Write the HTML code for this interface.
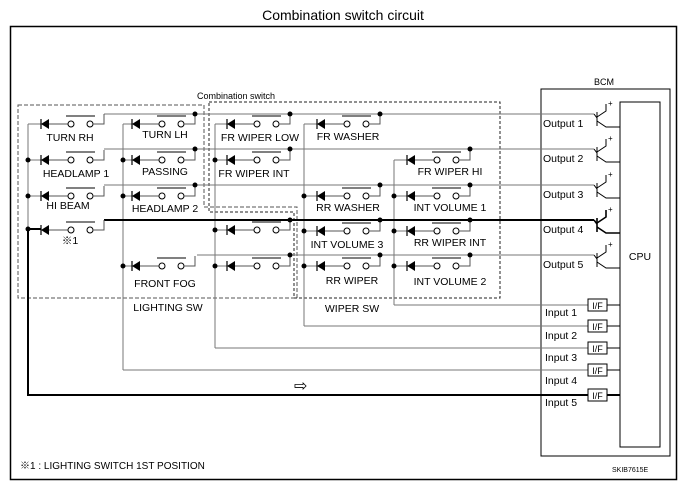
<!DOCTYPE html>
<html><head><meta charset="utf-8"><style>
html,body{margin:0;padding:0;background:#fff}
svg{display:block}
text{font-family:"Liberation Sans",Arial,sans-serif;font-size:10.5px;fill:#000}
</style></head><body>
<svg width="686" height="488" viewBox="0 0 686 488" xmlns="http://www.w3.org/2000/svg">
<defs>
<g id="sw">
<polygon points="0,0 8,-5 8,5" fill="#000"/>
<line x1="0" y1="-5" x2="0" y2="5" stroke="#000" stroke-width="1.2"/>
<line x1="8" y1="0" x2="27" y2="0" stroke="#555" stroke-width="1"/>
<circle cx="30" cy="0" r="3" fill="#fff" stroke="#000" stroke-width="1"/>
<circle cx="49" cy="0" r="3" fill="#fff" stroke="#000" stroke-width="1"/>
<line x1="25" y1="-8" x2="54" y2="-8" stroke="#000" stroke-width="1"/>
<polyline points="52,0 63,0 63,-10" fill="none" stroke="#555" stroke-width="1"/>
</g>
</defs>
<text x="343" y="20" text-anchor="middle" style="font-size:14px">Combination switch circuit</text>
<rect x="10.5" y="26.5" width="666" height="453" fill="none" stroke="#000" stroke-width="1.5"/>

<!-- dashed boxes -->
<polygon points="18,105 204,105 204,207 297,207 297,298 18,298" fill="none" stroke="#555" stroke-dasharray="4,2"/>
<polygon points="209,102 500,102 500,298 294,298 294,212 209,212" fill="none" stroke="#222" stroke-dasharray="3,2"/>
<text x="236" y="99" text-anchor="middle" style="font-size:9px">Combination switch</text>

<!-- BCM -->
<rect x="541" y="89" width="129" height="367" fill="none" stroke="#000"/>
<text x="604" y="85" text-anchor="middle" style="font-size:9px">BCM</text>
<rect x="620" y="102" width="40" height="345" fill="none" stroke="#000"/>
<text x="640" y="260" text-anchor="middle">CPU</text>

<g stroke="#777" stroke-width="1" fill="none">
<line x1="104" y1="114" x2="594" y2="114"/>
<line x1="104" y1="149" x2="594" y2="149"/>
<line x1="104" y1="185" x2="594" y2="185"/>
<line x1="197" y1="255" x2="594" y2="255"/>
<line x1="28" y1="124" x2="28" y2="229"/>
<line x1="123" y1="124" x2="123" y2="370"/>
<line x1="215" y1="124" x2="215" y2="348"/>
<line x1="304" y1="124" x2="304" y2="326"/>
<line x1="394" y1="160" x2="394" y2="305"/>
<line x1="394" y1="305" x2="588" y2="305"/>
<line x1="304" y1="326" x2="588" y2="326"/>
<line x1="215" y1="348" x2="588" y2="348"/>
<line x1="123" y1="370" x2="588" y2="370"/>
<line x1="28" y1="124" x2="41" y2="124"/><line x1="28" y1="160" x2="41" y2="160"/><line x1="28" y1="196" x2="41" y2="196"/>
<line x1="123" y1="124" x2="132" y2="124"/><line x1="123" y1="160" x2="132" y2="160"/><line x1="123" y1="196" x2="132" y2="196"/><line x1="123" y1="266" x2="132" y2="266"/>
<line x1="215" y1="124" x2="227" y2="124"/><line x1="215" y1="160" x2="227" y2="160"/><line x1="215" y1="230" x2="227" y2="230"/><line x1="215" y1="266" x2="227" y2="266"/>
<line x1="304" y1="124" x2="317" y2="124"/><line x1="304" y1="196" x2="317" y2="196"/><line x1="304" y1="231" x2="317" y2="231"/><line x1="304" y1="266" x2="317" y2="266"/>
<line x1="394" y1="160" x2="407" y2="160"/><line x1="394" y1="196" x2="407" y2="196"/><line x1="394" y1="231" x2="407" y2="231"/><line x1="394" y1="266" x2="407" y2="266"/>
</g>
<g stroke="#000" stroke-width="2" fill="none">
<line x1="104" y1="220" x2="594" y2="220"/>
<polyline points="41,229 28,229 28,395 588,395"/>
</g>

<use href="#sw" x="41" y="124"/><use href="#sw" x="41" y="160"/><use href="#sw" x="41" y="196"/><use href="#sw" x="41" y="230"/>
<use href="#sw" x="132" y="124"/><use href="#sw" x="132" y="160"/><use href="#sw" x="132" y="196"/><use href="#sw" x="132" y="266"/>
<use href="#sw" x="227" y="124"/><use href="#sw" x="227" y="160"/><use href="#sw" x="227" y="230"/><use href="#sw" x="227" y="266"/>
<use href="#sw" x="317" y="124"/><use href="#sw" x="317" y="196"/><use href="#sw" x="317" y="231"/><use href="#sw" x="317" y="266"/>
<use href="#sw" x="407" y="160"/><use href="#sw" x="407" y="196"/><use href="#sw" x="407" y="231"/><use href="#sw" x="407" y="266"/>

<g fill="#000">
<circle cx="28" cy="160" r="2.5"/><circle cx="28" cy="196" r="2.5"/><circle cx="28" cy="229" r="2.5"/>
<circle cx="123" cy="160" r="2.5"/><circle cx="123" cy="196" r="2.5"/><circle cx="123" cy="266" r="2.5"/>
<circle cx="215" cy="160" r="2.5"/><circle cx="215" cy="230" r="2.5"/><circle cx="215" cy="266" r="2.5"/>
<circle cx="304" cy="196" r="2.5"/><circle cx="304" cy="231" r="2.5"/><circle cx="304" cy="266" r="2.5"/>
<circle cx="394" cy="196" r="2.5"/><circle cx="394" cy="231" r="2.5"/><circle cx="394" cy="266" r="2.5"/>
<circle cx="195" cy="114" r="2.5"/><circle cx="195" cy="149" r="2.5"/><circle cx="195" cy="185" r="2.5"/>
<circle cx="290" cy="114" r="2.5"/><circle cx="290" cy="149" r="2.5"/><circle cx="290" cy="220" r="2.5"/><circle cx="290" cy="255" r="2.5"/>
<circle cx="380" cy="114" r="2.5"/><circle cx="380" cy="185" r="2.5"/><circle cx="380" cy="220" r="2.5"/><circle cx="380" cy="255" r="2.5"/>
<circle cx="470" cy="149" r="2.5"/><circle cx="470" cy="185" r="2.5"/><circle cx="470" cy="220" r="2.5"/><circle cx="470" cy="255" r="2.5"/>
</g>

<g text-anchor="middle">
<text x="70" y="141">TURN RH</text><text x="165" y="138">TURN LH</text><text x="260" y="141">FR WIPER LOW</text><text x="348" y="140">FR WASHER</text>
<text x="76" y="177">HEADLAMP 1</text><text x="165" y="175">PASSING</text><text x="254" y="177">FR WIPER INT</text><text x="450" y="175">FR WIPER HI</text>
<text x="68" y="209">HI BEAM</text><text x="165" y="212">HEADLAMP 2</text><text x="348" y="211">RR WASHER</text><text x="450" y="211">INT VOLUME 1</text>
<text x="70" y="244" style='font-family:"Liberation Sans","Noto Sans CJK JP",sans-serif'>※1</text><text x="347" y="248">INT VOLUME 3</text><text x="450" y="246">RR WIPER INT</text>
<text x="165" y="287">FRONT FOG</text><text x="352" y="284">RR WIPER</text><text x="450" y="285">INT VOLUME 2</text>
<text x="168" y="311">LIGHTING SW</text><text x="352" y="312">WIPER SW</text>
</g>

<g stroke="#000" stroke-width="1" fill="none">
<g id="tr"><line x1="594" y1="114" x2="597" y2="118"/><line x1="597" y1="112" x2="597" y2="126"/><polyline points="597,117 606,111 606,104"/><polyline points="597,121 606,127 620,127"/></g>
<use href="#tr" y="35"/><use href="#tr" y="71"/><use href="#tr" y="106" stroke-width="1.6"/><use href="#tr" y="141"/>
</g>
<text x="608" y="106" style="font-size:8px">+</text><text x="608" y="141" style="font-size:8px">+</text><text x="608" y="177" style="font-size:8px">+</text><text x="608" y="212" style="font-size:8px">+</text><text x="608" y="247" style="font-size:8px">+</text>
<text x="543" y="127">Output 1</text><text x="543" y="162">Output 2</text><text x="543" y="198">Output 3</text><text x="543" y="233">Output 4</text><text x="543" y="268">Output 5</text>

<g stroke="#000" fill="#fff">
<rect x="588" y="299" width="19" height="12"/><rect x="588" y="320" width="19" height="12"/><rect x="588" y="342" width="19" height="12"/><rect x="588" y="364" width="19" height="12"/><rect x="588" y="389" width="19" height="12"/>
</g>
<g stroke="#000"><line x1="607" y1="305" x2="620" y2="305"/><line x1="607" y1="326" x2="620" y2="326"/><line x1="607" y1="348" x2="620" y2="348"/><line x1="607" y1="370" x2="620" y2="370"/><line x1="607" y1="395" x2="620" y2="395" stroke-width="2"/></g>
<g text-anchor="middle">
<text x="597.5" y="309" style="font-size:9px">I/F</text><text x="597.5" y="330" style="font-size:9px">I/F</text><text x="597.5" y="352" style="font-size:9px">I/F</text><text x="597.5" y="374" style="font-size:9px">I/F</text><text x="597.5" y="399" style="font-size:9px">I/F</text>
</g>
<text x="545" y="316">Input 1</text><text x="545" y="339">Input 2</text><text x="545" y="361">Input 3</text><text x="545" y="384">Input 4</text><text x="545" y="406">Input 5</text>

<text x="294" y="391" style="font-size:16px">⇨</text>
<text x="20" y="469" style='font-family:"Liberation Sans","Noto Sans CJK JP",sans-serif;font-size:10px'>※1 : LIGHTING SWITCH 1ST POSITION</text>
<text x="612" y="472" style="font-size:7px">SKIB7615E</text>
</svg>
</body></html>
